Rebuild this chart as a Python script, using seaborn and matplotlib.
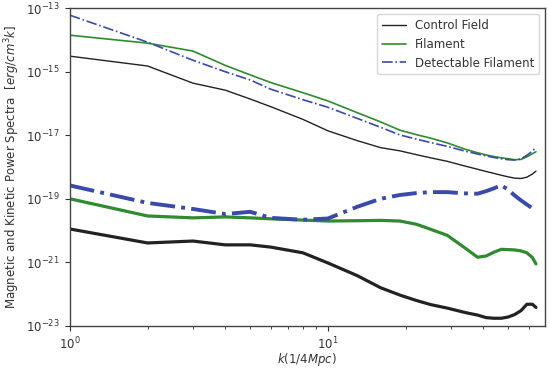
import numpy as np
import matplotlib
matplotlib.use("Agg")
import matplotlib.pyplot as plt
import seaborn as sns

# wavenumber grid
k = [1, 2, 3, 4, 5, 6, 8, 10, 13, 16, 19, 22, 25, 29, 34, 38, 41, 44, 47,
     50, 53, 56, 59, 62, 64]

# log10 of the spectra, upper (thin) curves
control_upper = [-14.51, -14.82, -15.36, -15.58, -15.86, -16.10, -16.50, -16.86,
                 -17.17, -17.39, -17.49, -17.61, -17.71, -17.82, -17.97, -18.07,
                 -18.14, -18.20, -18.26, -18.31, -18.35, -18.36, -18.32, -18.22,
                 -18.13]
filament_upper = [-13.85, -14.10, -14.35, -14.80, -15.10, -15.34, -15.66, -15.92,
                  -16.29, -16.58, -16.84, -16.98, -17.09, -17.24, -17.44, -17.55,
                  -17.62, -17.67, -17.71, -17.74, -17.77, -17.76, -17.68, -17.58,
                  -17.52]
detect_upper = [-13.22, -14.07, -14.64, -15.00, -15.26, -15.55, -15.88, -16.12,
                -16.47, -16.75, -16.99, -17.12, -17.23, -17.35, -17.50, -17.59,
                -17.65, -17.70, -17.74, -17.77, -17.78, -17.74, -17.63, -17.50,
                -17.38]

# log10 of the spectra, lower (thick) curves
control_lower = [-19.95, -20.39, -20.33, -20.45, -20.45, -20.52, -20.70, -21.02,
                 -21.42, -21.80, -22.03, -22.20, -22.33, -22.44, -22.58, -22.66,
                 -22.74, -22.76, -22.76, -22.72, -22.64, -22.52, -22.32, -22.32,
                 -22.42]
filament_lower = [-19.00, -19.54, -19.60, -19.57, -19.60, -19.63, -19.67, -19.70,
                  -19.69, -19.68, -19.70, -19.80, -19.96, -20.15, -20.55, -20.84,
                  -20.80, -20.68, -20.59, -20.60, -20.61, -20.64, -20.70, -20.85,
                  -21.05]
detect_lower = [-18.58, -19.13, -19.32, -19.48, -19.41, -19.60, -19.66, -19.62,
                -19.25, -19.00, -18.88, -18.82, -18.79, -18.79, -18.83, -18.84,
                -18.76, -18.67, -18.57, -18.72, -18.90, -19.05, -19.18, -19.30,
                -19.36]

sns.set_style("ticks")
plt.rcParams['font.family'] = ['DejaVu Sans']

fig = plt.figure(figsize=(5.5, 3.72), dpi=100)
ax = fig.add_axes([0.127, 0.124, 0.864, 0.854])

black = '#222222'
green = '#2e8b2e'
blue = '#3a4aaa'

sns.lineplot(x=k, y=10 ** np.array(control_upper), ax=ax, color=black, lw=1.0,
             label='Control Field')
sns.lineplot(x=k, y=10 ** np.array(filament_upper), ax=ax, color=green, lw=1.2,
             label='Filament')
sns.lineplot(x=k, y=10 ** np.array(detect_upper), ax=ax, color=blue, lw=1.2,
             ls='-.', label='Detectable Filament')
sns.lineplot(x=k, y=10 ** np.array(control_lower), ax=ax, color=black, lw=2.3)
sns.lineplot(x=k, y=10 ** np.array(filament_lower), ax=ax, color=green, lw=2.3)
sns.lineplot(x=k, y=10 ** np.array(detect_lower), ax=ax, color=blue, lw=2.8,
             ls='-.')

ax.set_xscale('log')
ax.set_yscale('log')
ax.set_xlim(1, 69.4)
ax.set_ylim(1e-23, 1e-13)
ax.set_yticks([1e-23, 1e-21, 1e-19, 1e-17, 1e-15, 1e-13])
ax.yaxis.set_minor_locator(matplotlib.ticker.NullLocator())
for s in ax.spines.values():
    s.set_color('#444444')
    s.set_linewidth(1.0)
ax.tick_params(labelsize=8.5, colors='#333333')
ax.set_xlabel(r'$k(1/4Mpc)$', fontsize=8.5, color='#333333', labelpad=-1)
ax.set_ylabel(r'Magnetic and Kinetic Power Spectra  [$erg/cm^3k$]', fontsize=8.5,
              color='#333333', labelpad=3)
leg = ax.legend(loc='upper right', fontsize=8.5, frameon=True)
for t in leg.get_texts():
    t.set_color('#333333')

fig.savefig('out.png', dpi=100)
